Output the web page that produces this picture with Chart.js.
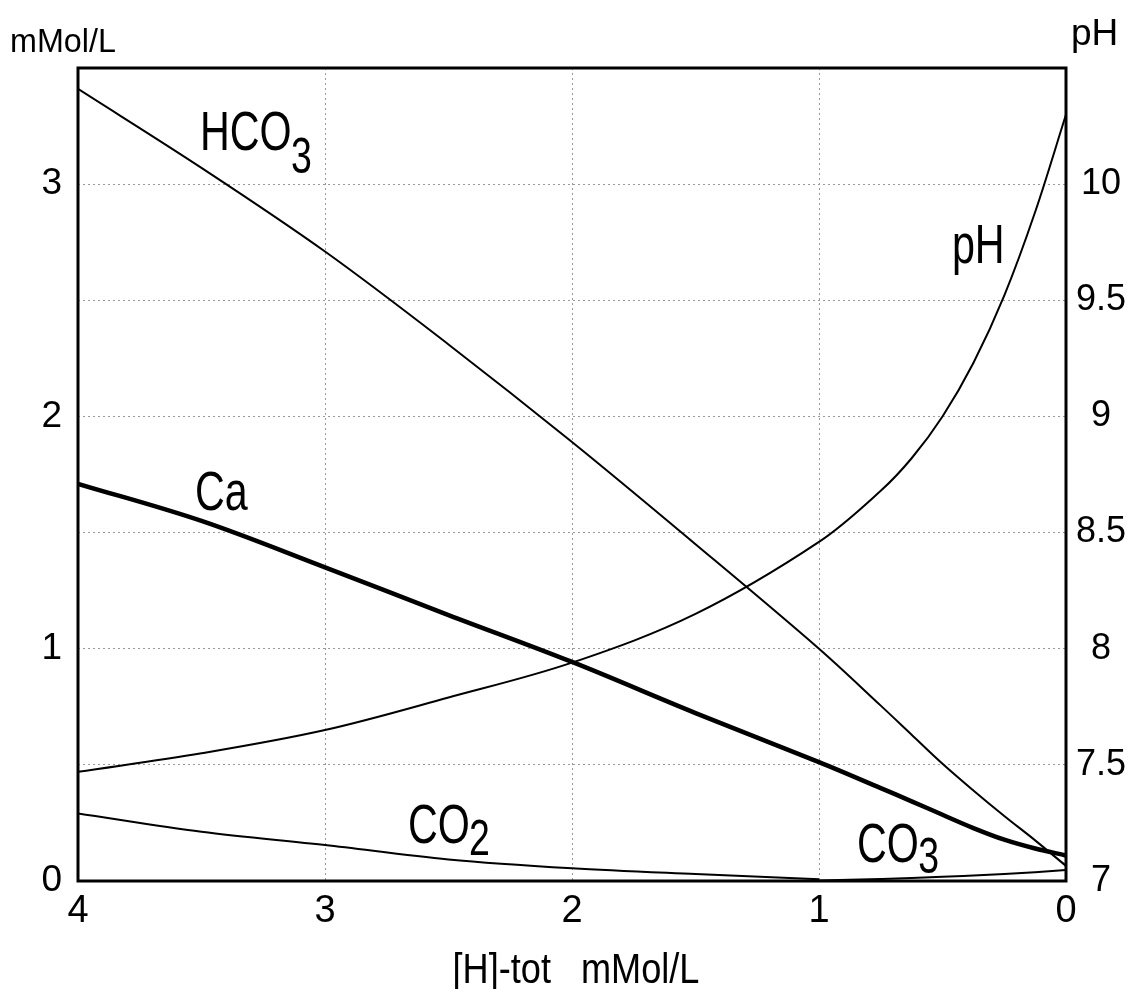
<!DOCTYPE html>
<html><head><meta charset="utf-8">
<script src="https://cdn.jsdelivr.net/npm/chart.js@4"></script>
<style>html,body{margin:0;padding:0;background:#fff}#wrap{width:1128px;height:989px}</style>
</head><body><div id="wrap"><canvas id="c" width="1128" height="989"></canvas></div>
<script>
// ---- data ----
const hTot = [4, 3.5, 3, 2.5, 2, 1.5, 1, 0.75, 0.625, 0.5, 0.375, 0.25, 0.125, 0];
const hco3 = [3.41, 3.07, 2.71, 2.31, 1.89, 1.45, 1.0, 0.755, 0.63, 0.505, 0.39, 0.28, 0.175, 0.065];
const ca   = [1.71, 1.55, 1.35, 1.145, 0.943, 0.723, 0.512, 0.40, 0.343, 0.285, 0.228, 0.178, 0.14, 0.11];
const co2  = [0.291, 0.212, 0.155, 0.093, 0.055, 0.03, 0.008, null, null, null, null, null, null, null];
const co3  = [null, null, null, null, null, null, 0.002, 0.009, 0.013, 0.018, 0.024, 0.03, 0.038, 0.047];
const pH   = [7.47, 7.55, 7.65, 7.79, 7.94, 8.15, 8.46, 8.68, 8.82, 9.00, 9.23, 9.52, 9.88, 10.30];
const xTicks = [0, 1, 2, 3, 4];
const leftTitle = 'mMol/L';
const rightTitle = 'pH';
const xTitle = '[H]-tot   mMol/L';
const curveLabels = [
  {text: 'HCO', sub: '3', x: 3.506, y: 3.147, axis: 'y', subDy: 23},
  {text: 'pH', sub: '', x: 0.462, y: 9.66, axis: 'y2', subDy: 0},
  {text: 'Ca', sub: '', x: 3.526, y: 1.597, axis: 'y', subDy: 0},
  {text: 'CO', sub: '2', x: 2.664, y: 0.164, axis: 'y', subDy: 12},
  {text: 'CO', sub: '3', x: 0.846, y: 0.082, axis: 'y', subDy: 11}
];

const pts = arr => hTot.map((h, i) => ({x: h, y: arr[i]}));
const FONT = '"Liberation Sans", Arial, Helvetica, sans-serif';

const annot = {
  id: 'annot',
  afterDatasetsDraw(chart) {
    const {ctx, chartArea: a, scales} = chart;
    ctx.save();
    ctx.strokeStyle = '#000'; ctx.lineWidth = 3;
    ctx.strokeRect(a.left, a.top, a.right - a.left, a.bottom - a.top);
    ctx.fillStyle = '#000'; ctx.textBaseline = 'alphabetic'; ctx.textAlign = 'left';
    const sx = 0.75;
    for (const L of curveLabels) {
      const px = scales.x.getPixelForValue(L.x);
      const py = scales[L.axis].getPixelForValue(L.y);
      ctx.save();
      ctx.translate(px, py); ctx.scale(sx, 1);
      ctx.font = '55px ' + FONT;
      ctx.fillText(L.text, 0, 0);
      const w = ctx.measureText(L.text).width;
      if (L.sub) { ctx.font = '50px ' + FONT; ctx.fillText(L.sub, w - 1, L.subDy); }
      ctx.restore();
    }
    // axis titles placed horizontally above the two y axes
    ctx.save(); ctx.translate(10, 52); ctx.scale(0.95, 1);
    ctx.font = '34px ' + FONT; ctx.fillText(leftTitle, 0, 0); ctx.restore();
    ctx.save(); ctx.translate(1071, 45);
    ctx.font = '37px ' + FONT; ctx.fillText(rightTitle, 0, 0); ctx.restore();
    // x axis title, centred under the plot
    ctx.save(); ctx.translate((a.left + a.right) / 2 + 4, 983); ctx.scale(0.86, 1);
    ctx.textAlign = 'center';
    ctx.font = '42px ' + FONT; ctx.fillText(xTitle, 0, 0); ctx.restore();
    ctx.restore();
  }
};

const lineDs = (label, arr, width, axis, mono) => ({
  label, data: pts(arr), yAxisID: axis, borderColor: '#000', backgroundColor: '#000',
  borderWidth: width, pointRadius: 0, fill: false, spanGaps: false,
  tension: 0.35, cubicInterpolationMode: mono ? 'monotone' : 'default'
});

new Chart(document.getElementById('c'), {
  type: 'line',
  data: {
    datasets: [
      lineDs('HCO3', hco3, 2, 'y', false),
      lineDs('Ca', ca, 4.5, 'y', false),
      lineDs('CO2', co2, 2, 'y', true),
      lineDs('CO3', co3, 2, 'y', true),
      lineDs('pH', pH, 2, 'y2', false)
    ]
  },
  options: {
    responsive: false, animation: false, devicePixelRatio: 1,
    layout: {padding: {top: 68, left: 0, right: 0, bottom: 0}},
    plugins: {legend: {display: false}, tooltip: {enabled: false}},
    scales: {
      x: {
        type: 'linear', reverse: true, min: 0, max: 4,
        afterBuildTicks: s => { s.ticks = xTicks.map(v => ({value: v})); },
        afterFit: s => { s.height = 108; },
        ticks: {color: '#000', padding: 8, font: {family: FONT, size: 38}, maxRotation: 0},
        grid: {color: '#9a9a9a', lineWidth: 1, drawTicks: false},
        border: {display: false, dash: [2, 3]}
      },
      y: {
        type: 'linear', position: 'left', min: 0, max: 3.5,
        afterFit: s => { s.width = 78; },
        ticks: {stepSize: 0.5, color: '#000', padding: 16, font: {family: FONT, size: 37},
                callback: v => (Math.abs(v - Math.round(v)) < 1e-9 && v < 3.5) ? String(v) : ''},
        grid: {color: '#9a9a9a', lineWidth: 1, drawTicks: false},
        border: {display: false, dash: [2, 3]}
      },
      y2: {
        type: 'linear', position: 'right', min: 7, max: 10.5,
        afterFit: s => { s.width = 62; },
        ticks: {stepSize: 0.5, color: '#000', padding: 10, crossAlign: 'center',
                font: {family: FONT, size: 36},
                callback: v => v < 10.25 ? String(v) : ''},
        grid: {drawOnChartArea: false, drawTicks: false},
        border: {display: false}
      }
    }
  },
  plugins: [annot]
});
</script>
</body></html>
